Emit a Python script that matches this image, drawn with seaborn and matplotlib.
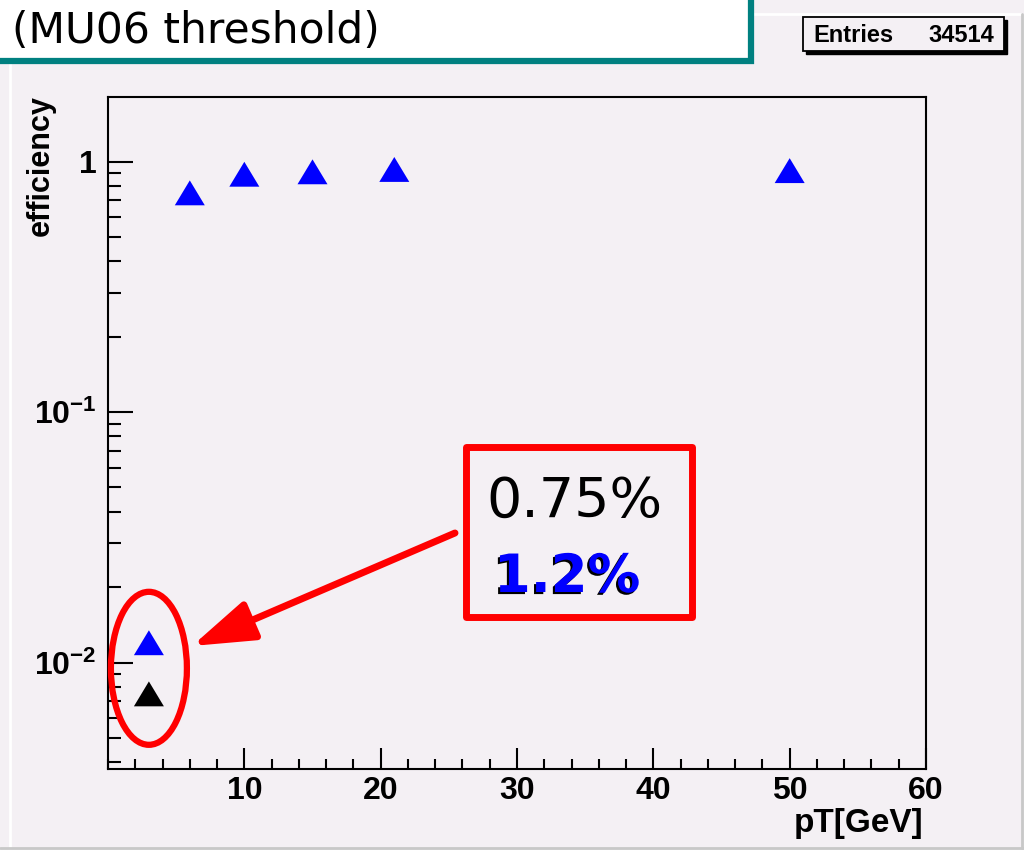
import numpy as np
import pandas as pd
import matplotlib
matplotlib.use("Agg")
import matplotlib.pyplot as plt
import matplotlib.patheffects as pe
import seaborn as sns
from matplotlib.lines import Line2D
from matplotlib.patches import Rectangle, Ellipse, FancyArrowPatch
from matplotlib.ticker import FixedLocator, LogLocator, MultipleLocator, NullFormatter

# Efficiency vs. muon pT
pt_all = [3, 6, 10, 15, 21, 50]
eff_all = [0.012, 0.75, 0.89, 0.91, 0.93, 0.92]
pt_low = [3]
eff_low = [0.0075]
series_names = ["all", "low"]
series_colors = ["blue", "black"]

ytick_vals = [0.01, 0.1, 1]
ytick_labels = ["10$^{-2}$", "10$^{-1}$", "1"]
xtick_vals = [10, 20, 30, 40, 50, 60]
xtick_labels = ["10", "20", "30", "40", "50", "60"]

title_text = "(MU06 threshold)"
entries_label = "Entries"
entries_value = "34514"
pct_low = "0.75%"
pct_all = "1.2%"

BG = "#f4f0f4"
TEAL = "#008080"
W, H = 1024, 850

sns.set_theme(style="ticks")
plt.rcParams["font.family"] = ["Liberation Sans", "DejaVu Sans"]
plt.rcParams["mathtext.fontset"] = "custom"
plt.rcParams["mathtext.rm"] = "Liberation Sans:bold"
plt.rcParams["mathtext.default"] = "rm"
plt.rcParams["text.color"] = "black"
plt.rcParams["axes.labelcolor"] = "black"


def fx(x):
    return x / W


def fy(y):
    return 1 - y / H


fig = plt.figure(figsize=(W / 100, H / 100), dpi=100, facecolor=BG)
ax = fig.add_axes([fx(108), fy(769), (926 - 108) / W, (769 - 97) / H])
ax.set_facecolor(BG)

df = pd.DataFrame({
    "pt": pt_all + pt_low,
    "eff": eff_all + eff_low,
    "series": [series_names[0]] * len(pt_all) + [series_names[1]] * len(pt_low),
})

tri = [(-1, -0.83), (1, -0.83), (0, 0.83), (-1, -0.83)]
sns.scatterplot(data=df, x="pt", y="eff", hue="series",
                palette=dict(zip(series_names, series_colors)),
                marker=tri, s=21.6 ** 2, linewidth=0, legend=False, ax=ax,
                zorder=3)

ax.set_yscale("log")
ax.set_xlim(0, 60)
ax.set_ylim(0.00376, 1.81)

ax.yaxis.set_major_locator(FixedLocator(ytick_vals))
ax.set_yticklabels(ytick_labels)
ax.yaxis.set_minor_locator(LogLocator(base=10, subs=np.arange(2, 10), numticks=20))
ax.yaxis.set_minor_formatter(NullFormatter())
ax.xaxis.set_major_locator(FixedLocator(xtick_vals))
ax.set_xticklabels(xtick_labels)
ax.xaxis.set_minor_locator(MultipleLocator(2))

ax.tick_params(axis="both", which="both", direction="in", width=1.5,
               color="black", top=False, right=False, labelsize=23,
               labelcolor="black")
ax.tick_params(axis="y", which="major", length=18, pad=8)
ax.tick_params(axis="y", which="minor", length=9.5)
ax.tick_params(axis="x", which="major", length=15, pad=5)
ax.tick_params(axis="x", which="minor", length=7.5)
for lab in ax.get_xticklabels() + ax.get_yticklabels():
    lab.set_fontweight("bold")

for sp in ax.spines.values():
    sp.set_visible(True)
    sp.set_linewidth(1.5)
    sp.set_color("black")

ax.set_xlabel("pT[GeV]", loc="right", fontsize=24, fontweight="bold")
ax.xaxis.set_label_coords((923 - 108) / 818, (769 - 808) / 672)
ax.set_ylabel("efficiency", loc="top", fontsize=22, fontweight="bold")
ax.yaxis.set_label_coords((56 - 108) / 818, (769 - 95) / 672)

# canvas borders
fig.add_artist(Line2D([fx(10), fx(10)], [fy(62), fy(848)], color="white", lw=2))
fig.add_artist(Line2D([fx(752), fx(1021)], [fy(14), fy(14)], color="white", lw=2))
fig.add_artist(Line2D([fx(0), fx(1024)], [fy(848), fy(848)], color="#c8c8c8", lw=2))
fig.add_artist(Line2D([fx(1022), fx(1022)], [fy(14), fy(848)], color="#c8c8c8", lw=2))

# title box
fig.add_artist(Rectangle((fx(-10), fy(61)), (751 + 10) / W, (61 + 10) / H,
                         transform=fig.transFigure, facecolor="white",
                         edgecolor=TEAL, lw=4.5, zorder=5))
fig.text(fx(12), fy(43), title_text, family="DejaVu Sans", fontsize=30.5,
         ha="left", va="baseline", color="black", zorder=6)

# statistics box
fig.add_artist(Rectangle((fx(806), fy(54)), (1007 - 806) / W, (54 - 20) / H,
                         transform=fig.transFigure, facecolor="black",
                         edgecolor="black", lw=1, zorder=5))
fig.add_artist(Rectangle((fx(803), fy(51)), (1004 - 803) / W, (51 - 17) / H,
                         transform=fig.transFigure, facecolor=BG,
                         edgecolor="black", lw=1.3, zorder=6))
fig.text(fx(813), fy(35), entries_label, fontsize=17, fontweight="bold",
         ha="left", va="center", zorder=7)
fig.text(fx(994), fy(35), entries_value, fontsize=17, fontweight="bold",
         ha="right", va="center", zorder=7)

# highlight of the low-pT points
gm = np.sqrt(eff_all[0] * eff_low[0])
cx, cy = fig.transFigure.inverted().transform(ax.transData.transform((pt_low[0], gm)))
fig.add_artist(Ellipse((cx, cy), 76 / W, 153 / H, transform=fig.transFigure,
                       facecolor="none", edgecolor="red", lw=4.5, zorder=8))

fig.add_artist(FancyArrowPatch((fx(455), fy(533)), (fx(192), fy(646)),
                               transform=fig.transFigure,
                               arrowstyle="-|>,head_length=38,head_width=12.5",
                               mutation_scale=1, lw=5, color="red",
                               shrinkA=0, shrinkB=0, zorder=8))

fig.add_artist(Rectangle((fx(465.5), fy(617)), (691.5 - 465.5) / W, (617 - 447) / H,
                         transform=fig.transFigure, facecolor=BG,
                         edgecolor="red", lw=5, joinstyle="round", zorder=8))
fig.text(fx(486), fy(517), pct_low, family="DejaVu Sans", fontsize=40,
         ha="left", va="baseline", color="black", zorder=9)
fig.text(fx(494), fy(592), pct_all, family="DejaVu Sans", fontweight="bold",
         fontsize=38, ha="left", va="baseline", color="blue", zorder=9,
         path_effects=[pe.withSimplePatchShadow(offset=(-1.5, -1.5),
                                                shadow_rgbFace="black", alpha=1)])

fig.savefig("out.png", dpi=100, facecolor=BG)
